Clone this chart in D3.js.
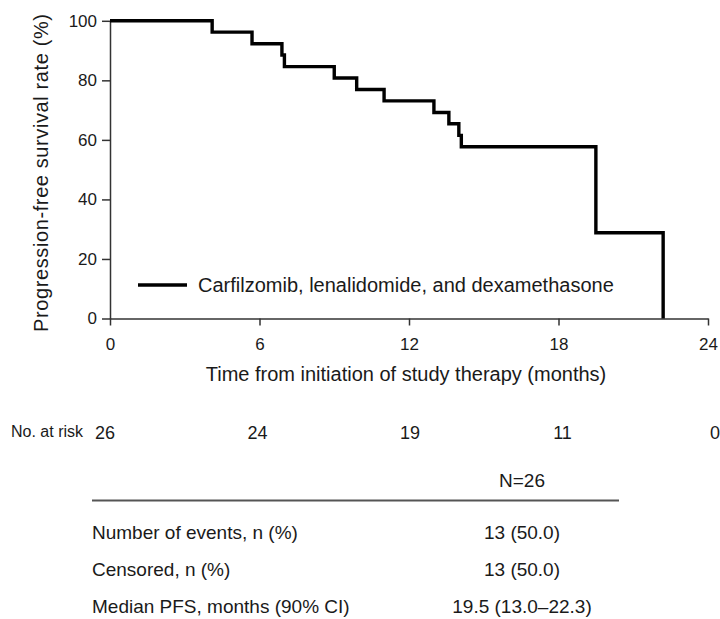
<!DOCTYPE html>
<html>
<head>
<meta charset="utf-8">
<script src="https://cdn.jsdelivr.net/npm/d3@7"></script>
<style>
    body { margin: 0; background: #fff; }
    svg text { font-family: "Liberation Sans", Arial, sans-serif; fill: #1a1a1a; }
</style>
</head>
<body>
<div id="chart"></div>
<script>
// Kaplan-Meier steps
var pfsMonths = [0, 4.1, 5.7, 6.9, 7.0, 9.0, 9.9, 11.0, 13.0, 13.6, 14.0, 14.1, 19.5, 22.2];
var pfsRate = [100, 96.2, 92.3, 88.5, 84.6, 80.8, 76.9, 73.1, 69.2, 65.4, 61.5, 57.7, 28.8, 0];
var xTicks = [0, 6, 12, 18, 24];
var yTicks = [0, 20, 40, 60, 80, 100];
var riskMonths = [0, 6, 12, 18, 24];
var atRisk = [26, 24, 19, 11, 0];
var seriesName = "Carfilzomib, lenalidomide, and dexamethasone";
var tableHeader = "N=26";
var rowLabels = ["Number of events, n (%)", "Censored, n (%)", "Median PFS, months (90% CI)"];
var rowValues = ["13 (50.0)", "13 (50.0)", "19.5 (13.0\u201322.3)"];

document.addEventListener('DOMContentLoaded', function () {
    drawChart();
});

function drawChart() {
    var svg = d3.select("#chart")
        .append("svg")
        .attr("width", 720)
        .attr("height", 619);

    var x = d3.scaleLinear().domain([0, 24]).range([110, 708]);
    var y = d3.scaleLinear().domain([0, 100]).range([318.5, 20.8]);

    // axes
    var xAxis = svg.append("g")
        .attr("transform", "translate(0," + y(0) + ")")
        .call(d3.axisBottom(x).tickValues(xTicks).tickSize(7).tickSizeOuter(0).tickPadding(12));
    xAxis.selectAll("text").style("font-size", "17px");

    var yAxis = svg.append("g")
        .attr("transform", "translate(" + x(0) + ",0)")
        .call(d3.axisLeft(y).tickValues(yTicks).tickSize(8).tickSizeOuter(0).tickPadding(5));
    yAxis.selectAll("text").style("font-size", "17px");

    svg.selectAll(".domain, .tick line")
        .attr("stroke", "#333")
        .attr("stroke-width", 1.5);

    // axis titles
    svg.append("text")
        .attr("x", 406)
        .attr("y", 381)
        .attr("text-anchor", "middle")
        .style("font-size", "20px")
        .text("Time from initiation of study therapy  (months)");

    svg.append("text")
        .attr("transform", "translate(48,173) rotate(-90)")
        .attr("text-anchor", "middle")
        .attr("textLength", 318)
        .attr("lengthAdjust", "spacing")
        .style("font-size", "20px")
        .text("Progression-free survival rate (%)");

    // survival curve
    var line = d3.line()
        .x(function (d, i) { return x(pfsMonths[i]); })
        .y(function (d) { return y(d); })
        .curve(d3.curveStepAfter);

    svg.append("path")
        .datum(pfsRate)
        .attr("d", line)
        .attr("fill", "none")
        .attr("stroke", "#000")
        .attr("stroke-width", 3.4);

    // legend
    svg.append("line")
        .attr("x1", 138).attr("x2", 187)
        .attr("y1", 285).attr("y2", 285)
        .attr("stroke", "#000")
        .attr("stroke-width", 3.4);
    svg.append("text")
        .attr("x", 198)
        .attr("y", 292)
        .style("font-size", "20px")
        .text(seriesName);

    // number at risk
    var xRisk = d3.scaleLinear().domain([0, 24]).range([105, 715]);
    svg.append("text")
        .attr("x", 11)
        .attr("y", 437)
        .style("font-size", "16px")
        .text("No. at risk");
    svg.selectAll(".risk")
        .data(atRisk)
        .enter()
        .append("text")
        .attr("class", "risk")
        .attr("x", function (d, i) { return xRisk(riskMonths[i]); })
        .attr("y", 439)
        .attr("text-anchor", "middle")
        .style("font-size", "18px")
        .text(function (d) { return d; });

    // summary table
    svg.append("text")
        .attr("x", 522)
        .attr("y", 487)
        .attr("text-anchor", "middle")
        .style("font-size", "19px")
        .text(tableHeader);
    svg.append("line")
        .attr("x1", 92).attr("x2", 619)
        .attr("y1", 500.5).attr("y2", 500.5)
        .attr("stroke", "#555")
        .attr("stroke-width", 2);

    var rowY = d3.scalePoint().domain(rowLabels).range([539, 613]);
    svg.selectAll(".rowLabel")
        .data(rowLabels)
        .enter()
        .append("text")
        .attr("class", "rowLabel")
        .attr("x", 92)
        .attr("y", function (d) { return rowY(d); })
        .style("font-size", "19px")
        .text(function (d) { return d; });
    svg.selectAll(".rowValue")
        .data(rowValues)
        .enter()
        .append("text")
        .attr("class", "rowValue")
        .attr("x", 522)
        .attr("y", function (d, i) { return rowY(rowLabels[i]); })
        .attr("text-anchor", "middle")
        .style("font-size", "19px")
        .text(function (d) { return d; });
}
</script>
</body>
</html>
